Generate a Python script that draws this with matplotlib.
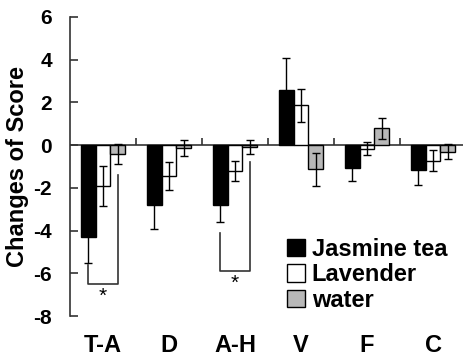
import matplotlib
matplotlib.use("Agg")
import matplotlib.pyplot as plt
from matplotlib.patches import Patch
import numpy as np

categories = ["T-A", "D", "A-H", "V", "F", "C"]
series_names = ["Jasmine tea", "Lavender", "water"]
jasmine = [-4.3, -2.8, -2.8, 2.6, -1.05, -1.15]
jasmine_err = [1.2, 1.13, 0.82, 1.5, 0.64, 0.73]
lavender = [-1.92, -1.44, -1.22, 1.87, -0.16, -0.73]
lavender_err = [0.95, 0.65, 0.48, 0.77, 0.3, 0.5]
water = [-0.42, -0.15, -0.08, -1.14, 0.78, -0.31]
water_err = [0.46, 0.38, 0.33, 0.78, 0.5, 0.35]
yticks = [6, 4, 2, 0, -2, -4, -6, -8]

# significance brackets: (category index, left top, right top, bottom, star y)
brackets = [(0, -5.62, -1.4, -6.52, -7.07), (2, -4.13, -0.78, -5.9, -6.45)]

colors = ["#000000", "#ffffff", "#b8b8b8"]
font = "Liberation Sans"

fig = plt.figure(figsize=(4.63, 3.59), dpi=100)
ax = fig.add_axes([70 / 463, 43 / 359, 1 - 70 / 463, 299 / 359])

w = 0.227
x = np.arange(len(categories)) + 0.5
offsets = [-w, 0, w]
for vals, errs, col, off, name in zip([jasmine, lavender, water],
                                       [jasmine_err, lavender_err, water_err],
                                       colors, offsets, series_names):
    ax.bar(x + off, vals, width=w, color=col, edgecolor="black", linewidth=1.0,
           zorder=2, label=name)
    ax.errorbar(x + off, vals, yerr=errs, fmt="none", ecolor="black",
                elinewidth=1.0, capsize=3, capthick=1.0, zorder=3)

ax.axhline(0, color="#333333", linewidth=1.2, zorder=1)
ax.vlines(np.arange(1, len(categories)), 0, 0.33, color="#333333", linewidth=1.2, zorder=1)

for idx, lt, rt, bot, sy in brackets:
    xl = x[idx] - w
    xr = x[idx] + w
    ax.plot([xl, xl, xr, xr], [lt, bot, bot, rt], color="#333333", linewidth=1.2,
            zorder=2)
    ax.text(x[idx], sy, "*", ha="center", va="center", fontsize=15,
            family=font)

ax.set_xlim(0, 393 / 66)
ax.set_ylim(-8, 6)
ax.set_yticks(yticks)
ax.set_yticklabels([str(t) for t in yticks], fontsize=15, fontweight="bold",
                   family=font)
ax.tick_params(axis="y", direction="in", length=6, width=1.2, pad=13,
               color="#333333")
ax.set_xticks(x)
ax.set_xticklabels(categories, fontsize=17, fontweight="bold", family=font)
ax.tick_params(axis="x", length=0, pad=13)

for s in ["top", "right", "bottom"]:
    ax.spines[s].set_visible(False)
ax.spines["left"].set_color("#333333")
ax.spines["left"].set_linewidth(1.2)

ax.set_ylabel("Changes of Score", fontsize=17, fontweight="bold", family=font,
              labelpad=3)

handles = [Patch(facecolor=c, edgecolor="black", linewidth=1.0) for c in colors]
leg = ax.legend(handles, series_names, loc="upper left",
                bbox_to_anchor=(287 / 463, 1 - 238 / 359),
                bbox_transform=fig.transFigure, frameon=False,
                handlelength=0.75, handleheight=0.75, handletextpad=0.3,
                labelspacing=0.1, borderpad=0, borderaxespad=0,
                prop={"family": font, "weight": "bold", "size": 17})

fig.savefig("out.png", dpi=100)
